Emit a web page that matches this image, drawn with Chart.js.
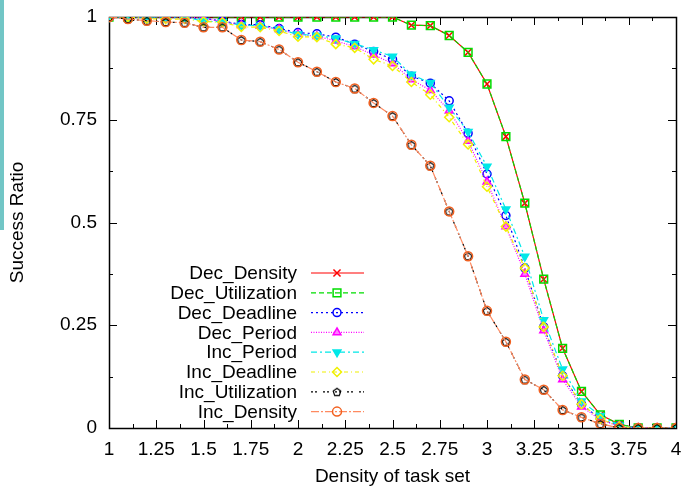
<!DOCTYPE html>
<html>
<head>
<meta charset="utf-8">
<script src="https://cdn.jsdelivr.net/npm/chart.js@4.4.1/dist/chart.umd.min.js"></script>
<style>
  html, body { margin: 0; padding: 0; background: #fff; }
  #wrap { position: relative; width: 683px; height: 490px; }
  #edge { position: absolute; left: 0; top: 0; width: 4px; height: 230px; background: #72c6c6; }
</style>
</head>
<body>
<div id="wrap">
  <canvas id="chart" width="683" height="490"></canvas>
  <div id="edge"></div>
</div>
<script>
// x values (density of task set)
const densities = [1.0, 1.1, 1.2, 1.3, 1.4, 1.5, 1.6, 1.7, 1.8, 1.9, 2.0, 2.1, 2.2, 2.3, 2.4, 2.5,
  2.6, 2.7, 2.8, 2.9, 3.0, 3.1, 3.2, 3.3, 3.4, 3.5, 3.6, 3.7, 3.8, 3.9, 4.0];

// success ratio per heuristic
const decDensity = [1, 1, 1, 1, 1, 1, 1, 1, 1, 1, 1, 1, 1, 1, 1, 1,
  0.98, 0.979, 0.955, 0.914, 0.837, 0.709, 0.547, 0.362, 0.194, 0.089, 0.032, 0.009, 0, 0, 0];
const decUtilization = [1, 1, 1, 1, 1, 1, 1, 1, 1, 1, 1, 1, 1, 1, 1, 1,
  0.98, 0.979, 0.955, 0.914, 0.837, 0.709, 0.547, 0.362, 0.194, 0.089, 0.032, 0.009, 0, 0, 0];
const decDeadline = [1, 1, 1, 1, 0.998, 0.997, 0.99, 0.982, 0.981, 0.972, 0.962, 0.959, 0.951, 0.934, 0.916, 0.897,
  0.856, 0.839, 0.796, 0.717, 0.618, 0.517, 0.389, 0.246, 0.127, 0.058, 0.022, 0.005, 0, 0, 0];
const decPeriod = [1, 1, 1, 1, 1, 0.997, 0.989, 0.98, 0.978, 0.97, 0.958, 0.953, 0.942, 0.928, 0.908, 0.887,
  0.848, 0.822, 0.772, 0.698, 0.599, 0.49, 0.375, 0.237, 0.118, 0.052, 0.02, 0.004, 0, 0, 0];
const incPeriod = [1, 1, 1, 1, 1, 0.99, 0.988, 0.98, 0.979, 0.97, 0.958, 0.955, 0.948, 0.935, 0.92, 0.904,
  0.86, 0.84, 0.78, 0.721, 0.636, 0.532, 0.417, 0.263, 0.143, 0.065, 0.03, 0.006, 0, 0, 0];
const incDeadline = [1, 1, 0.996, 0.995, 0.995, 0.989, 0.987, 0.976, 0.975, 0.966, 0.952, 0.951, 0.934, 0.925, 0.897, 0.881,
  0.842, 0.811, 0.756, 0.69, 0.587, 0.49, 0.389, 0.246, 0.127, 0.058, 0.022, 0.004, 0, 0, 0];
const incUtilization = [1, 0.995, 0.991, 0.988, 0.986, 0.975, 0.975, 0.944, 0.94, 0.921, 0.89, 0.867, 0.842, 0.826, 0.791, 0.759,
  0.689, 0.638, 0.527, 0.418, 0.285, 0.21, 0.118, 0.093, 0.044, 0.026, 0.01, 0, 0, 0, 0];
const incDensity = [1, 0.995, 0.991, 0.988, 0.986, 0.975, 0.975, 0.944, 0.94, 0.921, 0.89, 0.867, 0.842, 0.826, 0.791, 0.759,
  0.689, 0.638, 0.527, 0.418, 0.285, 0.21, 0.118, 0.093, 0.044, 0.026, 0.01, 0, 0, 0, 0];

const seriesNames = ['Dec_Density', 'Dec_Utilization', 'Dec_Deadline', 'Dec_Period',
  'Inc_Period', 'Inc_Deadline', 'Inc_Utilization', 'Inc_Density'];
const seriesValues = [decDensity, decUtilization, decDeadline, decPeriod,
  incPeriod, incDeadline, incUtilization, incDensity];

// small hollow pentagon for Inc_Utilization (no built-in style for it)
function pentagon(color) {
  const c = document.createElement('canvas');
  c.width = 10; c.height = 10;
  const g = c.getContext('2d');
  g.strokeStyle = color;
  g.lineWidth = 1.2;
  g.beginPath();
  for (let k = 0; k < 5; k++) {
    const a = -Math.PI / 2 + k * 2 * Math.PI / 5;
    const px = 5 + 4 * Math.cos(a), py = 5.4 + 4 * Math.sin(a);
    if (k === 0) g.moveTo(px, py); else g.lineTo(px, py);
  }
  g.closePath();
  g.stroke();
  return c;
}

const styles = [
  { color: '#ff0000', dash: [], point: 'crossRot', radius: 5, fill: 'transparent', rot: 0 },
  { color: '#00dd00', dash: [5, 3], point: 'rect', radius: 5.5, fill: 'transparent', rot: 0 },
  { color: '#0000ff', dash: [2, 3], point: 'circle', radius: 4, fill: 'transparent', rot: 0 },
  { color: '#ff00ff', dash: [1, 1.5], point: 'triangle', radius: 4.5, fill: '#ff80ff', rot: 0 },
  { color: '#00e8e8', dash: [6, 3, 2, 3], point: 'triangle', radius: 4.5, fill: '#00e8e8', rot: 180 },
  { color: '#f0f000', dash: [4, 3, 1, 3], point: 'rectRot', radius: 4.5, fill: 'transparent', rot: 0 },
  { color: '#000000', dash: [2, 2, 2, 6], point: pentagon('#000000'), radius: 4, fill: 'transparent', rot: 0 },
  { color: '#f2601f', line: '#ff8a60', dash: [8, 2, 2, 2], point: 'circle', radius: 4.5, fill: 'transparent', rot: 0 }
];

const datasets = seriesNames.map((name, i) => ({
  label: name,
  data: densities.map((d, j) => ({ x: d, y: seriesValues[i][j] })),
  borderColor: styles[i].line || styles[i].color,
  borderWidth: 1.2,
  borderDash: styles[i].dash,
  pointStyle: styles[i].point,
  pointRadius: styles[i].radius,
  pointRotation: styles[i].rot,
  pointBorderColor: styles[i].color,
  pointBackgroundColor: styles[i].fill,
  pointBorderWidth: 1.5,
  tension: 0,
  fill: false,
  order: seriesNames.length - i
}));

// gnuplot-like frame with inward ticks on all four sides
const frameTicks = {
  id: 'frameTicks',
  beforeDatasetsDraw(chart) {
    const { ctx, chartArea: a, scales: { x, y } } = chart;
    ctx.save();
    ctx.strokeStyle = '#000';
    ctx.lineWidth = 1;
    ctx.beginPath();
    x.ticks.forEach(t => {
      const px = Math.round(x.getPixelForValue(t.value)) + 0.5;
      const len = (t.label !== '' ? 8 : 4);
      ctx.moveTo(px, a.bottom); ctx.lineTo(px, a.bottom - len);
      ctx.moveTo(px, a.top); ctx.lineTo(px, a.top + len);
    });
    y.ticks.forEach(t => {
      const py = Math.round(y.getPixelForValue(t.value)) + 0.5;
      const len = (t.label !== '' ? 8 : 4);
      ctx.moveTo(a.left, py); ctx.lineTo(a.left + len, py);
      ctx.moveTo(a.right, py); ctx.lineTo(a.right - len, py);
    });
    ctx.stroke();
    ctx.lineWidth = 1.5;
    ctx.strokeRect(Math.round(a.left) + 0.5, Math.round(a.top) + 0.5,
      Math.round(a.right - a.left), Math.round(a.bottom - a.top));
    ctx.restore();
  }
};

// key in the lower left, text right-aligned with the sample to its right
const keyBox = {
  id: 'keyBox',
  afterDatasetsDraw(chart) {
    const ctx = chart.ctx;
    const textRight = 297, lineL = 311, lineR = 364, markX = 337;
    const top = 273, step = 19.8;
    ctx.save();
    ctx.font = '19px "Liberation Sans", Arial, sans-serif';
    ctx.textAlign = 'right';
    ctx.textBaseline = 'middle';
    chart.data.datasets.forEach((ds, i) => {
      const yy = top + i * step;
      ctx.fillStyle = '#000';
      ctx.fillText(ds.label, textRight, yy + 1);
      ctx.strokeStyle = ds.borderColor;
      ctx.lineWidth = 1.2;
      ctx.setLineDash(ds.borderDash);
      ctx.beginPath();
      ctx.moveTo(lineL, yy); ctx.lineTo(lineR, yy);
      ctx.stroke();
      ctx.setLineDash([]);
      ctx.strokeStyle = ds.pointBorderColor;
      ctx.fillStyle = ds.pointBackgroundColor;
      ctx.lineWidth = ds.pointBorderWidth;
      Chart.helpers.drawPoint(ctx, {
        pointStyle: ds.pointStyle,
        radius: ds.pointRadius,
        rotation: ds.pointRotation,
        borderWidth: ds.pointBorderWidth
      }, markX, yy);
    });
    ctx.restore();
  }
};

const font = { family: '"Liberation Sans", Arial, sans-serif', size: 19 };

new Chart(document.getElementById('chart'), {
  type: 'line',
  data: { datasets },
  options: {
    responsive: false,
    animation: false,
    layout: { padding: { left: 0, right: 5, top: 17, bottom: 0 } },
    plugins: { legend: { display: false }, tooltip: { enabled: false } },
    scales: {
      x: {
        type: 'linear',
        min: 1,
        max: 4,
        grid: { display: false, drawTicks: false },
        border: { display: false },
        ticks: {
          stepSize: 0.125,
          autoSkip: false,
          maxRotation: 0,
          padding: 10,
          color: '#000',
          font,
          callback: v => (Math.abs(v * 4 - Math.round(v * 4)) < 1e-6 ? String(v) : '')
        },
        title: { display: true, text: 'Density of task set', color: '#000', font, padding: { top: 0, bottom: 2 } },
        afterFit: s => { s.height = 62; s.paddingLeft = 0; s.paddingRight = 0; }
      },
      y: {
        min: 0,
        max: 1,
        grid: { display: false, drawTicks: false },
        border: { display: false },
        ticks: {
          stepSize: 0.125,
          autoSkip: false,
          padding: 12,
          color: '#000',
          font,
          callback: v => (Math.abs(v * 4 - Math.round(v * 4)) < 1e-6 ? String(v) : '')
        },
        title: { display: true, text: 'Success Ratio', color: '#000', font, padding: { top: 6, bottom: 0 } },
        afterFit: s => { s.width = 109; s.paddingTop = 0; s.paddingBottom = 0; }
      }
    }
  },
  plugins: [frameTicks, keyBox]
});
</script>
</body>
</html>
